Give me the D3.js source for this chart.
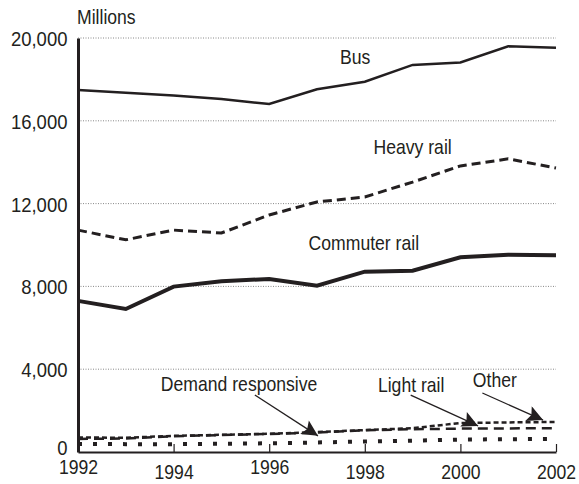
<!DOCTYPE html>
<html>
<head>
<meta charset="utf-8">
<script src="https://cdn.jsdelivr.net/npm/d3@7"></script>
<style>
  body { margin: 0; background: #fff; }
  svg text { font-family: "Liberation Sans", Arial, sans-serif; fill: #231f20; }
</style>
</head>
<body>
<svg width="579" height="484"></svg>
<script>
// passenger miles, millions
const years = [1992, 1993, 1994, 1995, 1996, 1997, 1998, 1999, 2000, 2001, 2002];
const bus = [17490, 17360, 17220, 17050, 16810, 17520, 17890, 18700, 18820, 19600, 19530];
const heavyRail = [10720, 10250, 10720, 10580, 11450, 12080, 12320, 13040, 13820, 14160, 13720];
const commuterRail = [7300, 6910, 7990, 8250, 8360, 8030, 8710, 8760, 9410, 9530, 9500];
const demandResponsive = [390, 380, 380, 400, 420, 460, 510, 550, 600, 620, 630];
const lightRail = [630, 650, 760, 820, 870, 940, 1050, 1100, 1130, 1140, 1150];
const other = [700, 690, 780, 830, 880, 960, 1060, 1150, 1400, 1430, 1450];

const yTicks = [0, 4000, 8000, 12000, 16000, 20000];
const xTicks = [1992, 1994, 1996, 1998, 2000, 2002];
// the year labels in the original sit at two heights
const xLabelDrop = [0, 5, 0, 5, 5, 5];

const svg = d3.select("svg");
const margin = { left: 78, right: 23, top: 38, bottom: 32 };
const width = +svg.attr("width");
const height = +svg.attr("height");
const squeeze = 0.88;

const x = d3.scaleLinear()
    .domain([1992, 2002])
    .range([margin.left, width - margin.right]);

const y = d3.scaleLinear()
    .domain([0, 20000])
    .range([height - margin.bottom, margin.top]);

// dotted grid
svg.append("g")
    .selectAll("line")
    .data(yTicks.filter(d => d > 0))
    .enter()
    .append("line")
    .attr("x1", x(1992))
    .attr("x2", x(2002))
    .attr("y1", d => y(d))
    .attr("y2", d => y(d))
    .attr("stroke", "#888")
    .attr("stroke-width", 1)
    .attr("stroke-dasharray", "1,1.5");

// series
const series = [
    { values: bus, width: 2.5, dash: null },
    { values: heavyRail, width: 3, dash: "9,5" },
    { values: commuterRail, width: 4, dash: null },
    { values: demandResponsive, width: 4, dash: "4,11" },
    { values: lightRail, width: 2.5, dash: "10,6" },
    { values: other, width: 2.5, dash: "5,3" }
];

const line = d3.line()
    .x((d, i) => x(years[i]))
    .y(d => y(d));

svg.append("g")
    .selectAll("path")
    .data(series)
    .enter()
    .append("path")
    .attr("d", d => line(d.values))
    .attr("fill", "none")
    .attr("stroke", "#231f20")
    .attr("stroke-width", d => d.width)
    .attr("stroke-dasharray", d => d.dash);

// axes
const xAxis = svg.append("g")
    .attr("transform", `translate(0, ${y(0)})`)
    .call(d3.axisBottom(x).tickValues(xTicks).tickFormat(d3.format("d")).tickSizeInner(-8).tickSizeOuter(0).tickPadding(0));
xAxis.select(".domain").attr("stroke", "#231f20").attr("stroke-width", 2);
xAxis.selectAll(".tick line").attr("stroke", "#231f20").attr("stroke-width", 1.2);
xAxis.selectAll(".tick text")
    .attr("font-size", 20)
    .attr("y", (d, i) => 22 + xLabelDrop[i])
    .attr("dy", null)
    .attr("transform", `scale(${squeeze},1)`);

const yAxis = svg.append("g")
    .attr("transform", `translate(${x(1992)}, 0)`)
    .call(d3.axisLeft(y).tickValues(yTicks).tickFormat(d3.format(",")).tickSize(0).tickPadding(12));
yAxis.select(".domain").attr("stroke", "#231f20").attr("stroke-width", 3);
yAxis.selectAll(".tick text")
    .attr("font-size", 21)
    .attr("dy", d => d === 0 ? "0.12em" : "0.36em")
    .attr("transform", `scale(${squeeze},1)`);
svg.selectAll(".tick text").attr("font-family", null).attr("fill", "#231f20");

svg.append("text")
    .attr("transform", `translate(${x(1992) - 1}, 24) scale(${squeeze},1)`)
    .attr("font-size", 20)
    .text("Millions");

// labels
const labels = [
    { text: "Bus", year: 1997.8, value: 18750 },
    { text: "Heavy rail", year: 1999.0, value: 14400 },
    { text: "Commuter rail", year: 1997.98, value: 9760 },
    { text: "Demand responsive", year: 1995.37, value: 2950 },
    { text: "Light rail", year: 1998.97, value: 2900 },
    { text: "Other", year: 2000.72, value: 3140 }
];

svg.append("g")
    .selectAll("text")
    .data(labels)
    .enter()
    .append("text")
    .attr("transform", d => `translate(${x(d.year)}, ${y(d.value)}) scale(${squeeze},1)`)
    .attr("text-anchor", "middle")
    .attr("font-size", 20)
    .text(d => d.text);

// arrows
const arrows = [
    { from: [1995.7, 2750], to: [1997.02, 780] },
    { from: [1998.96, 2750], to: [2000.37, 1260] },
    { from: [2000.46, 2850], to: [2001.73, 1540] }
];

svg.append("defs").append("marker")
    .attr("id", "head")
    .attr("viewBox", "0 0 10 10")
    .attr("refX", 10)
    .attr("refY", 5)
    .attr("markerUnits", "userSpaceOnUse")
    .attr("markerWidth", 20)
    .attr("markerHeight", 16)
    .attr("orient", "auto")
    .append("path")
    .attr("d", "M0,0 L10,5 L0,10 L2,5 Z")
    .attr("fill", "#231f20");

svg.append("g")
    .selectAll("line")
    .data(arrows)
    .enter()
    .append("line")
    .attr("x1", d => x(d.from[0]))
    .attr("y1", d => y(d.from[1]))
    .attr("x2", d => x(d.to[0]))
    .attr("y2", d => y(d.to[1]))
    .attr("stroke", "#231f20")
    .attr("stroke-width", 1.3)
    .attr("marker-end", "url(#head)");
</script>
</body>
</html>
